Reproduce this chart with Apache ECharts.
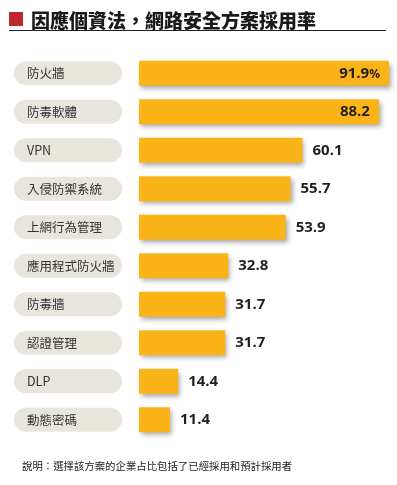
<!DOCTYPE html>
<html>
<head>
<meta charset="utf-8">
<script src="https://cdn.jsdelivr.net/npm/echarts@6/dist/echarts.min.js"></script>
<style>
html,body{margin:0;padding:0;background:#fff;}
#main{width:397px;height:485px;}
</style>
</head>
<body>
<div id="main"></div>
<script>
// 資料
var categories = ['防火牆', '防毒軟體', 'VPN', '入侵防禦系統', '上網行為管理', '應用程式防火牆', '防毒牆', '認證管理', 'DLP', '動態密碼'];
var values = [91.9, 88.2, 60.1, 55.7, 53.9, 32.8, 31.7, 31.7, 14.4, 11.4];
var titleText = '因應個資法，網路安全方案採用率';
var noteText = '說明：選擇該方案的企業占比包括了已經採用和預計採用者';

var cjk = '"Noto Sans CJK TC", "Noto Sans CJK SC", sans-serif';
var num = '"Open Sans", "Liberation Sans", sans-serif';

var chart = echarts.init(document.getElementById('main'));

// 前兩筆標籤放在長條內
var seriesData = values.map(function (v, i) {
    var item = { value: v };
    if (i < 2) {
        item.label = { position: 'insideRight', distance: 9 };
    }
    return item;
});

var option = {
    backgroundColor: '#fff',
    animation: false,
    title: {
        text: titleText,
        left: 26,
        top: 6,
        textStyle: { fontFamily: cjk, fontSize: 19, fontWeight: 900, color: '#1a1a1a' }
    },
    graphic: [
        { type: 'rect', shape: { x: 9, y: 12, width: 14, height: 14 }, style: { fill: '#c0272d' } },
        { type: 'line', shape: { x1: 9, y1: 30.5, x2: 386, y2: 30.5 }, style: { stroke: '#222', lineWidth: 1 } },
        {
            type: 'text', left: 22, top: 461,
            style: { text: noteText, font: '10.4px ' + cjk, fill: '#222' }
        }
    ],
    grid: { left: 139, right: 8, top: 54, bottom: 46 },
    xAxis: {
        type: 'value', min: 0, max: 91.9,
        show: false
    },
    yAxis: {
        type: 'category',
        inverse: true,
        data: categories,
        axisLine: { show: false },
        axisTick: { show: false },
        axisLabel: {
            align: 'left',
            margin: 125,
            fontFamily: cjk,
            fontSize: 12.5,
            color: '#333',
            backgroundColor: '#e7e5dc',
            borderRadius: 12,
            width: 95,
            height: 24,
            lineHeight: 24,
            padding: [0, 0, 0, 13],
            verticalAlign: 'middle'
        }
    },
    series: [{
        type: 'bar',
        data: seriesData,
        barWidth: 25,
        itemStyle: {
            color: '#fbb417',
            shadowColor: 'rgba(0,0,0,0.35)',
            shadowBlur: 5,
            shadowOffsetX: 2,
            shadowOffsetY: 3
        },
        label: {
            show: true,
            position: 'right',
            distance: 10,
            fontFamily: num,
            fontSize: 15,
            fontWeight: 'bold',
            color: '#231f20',
            formatter: function (p) {
                if (p.dataIndex === 0) return '{v|' + p.value + '}{p|%}';
                return '{v|' + p.value + '}';
            },
            rich: {
                v: { fontFamily: num, fontSize: 15, fontWeight: 'bold', color: '#231f20' },
                p: { fontFamily: num, fontSize: 12, color: '#231f20', padding: [2, 0, 0, 0] }
            }
        }
    }]
};

chart.setOption(option);
</script>
</body>
</html>
